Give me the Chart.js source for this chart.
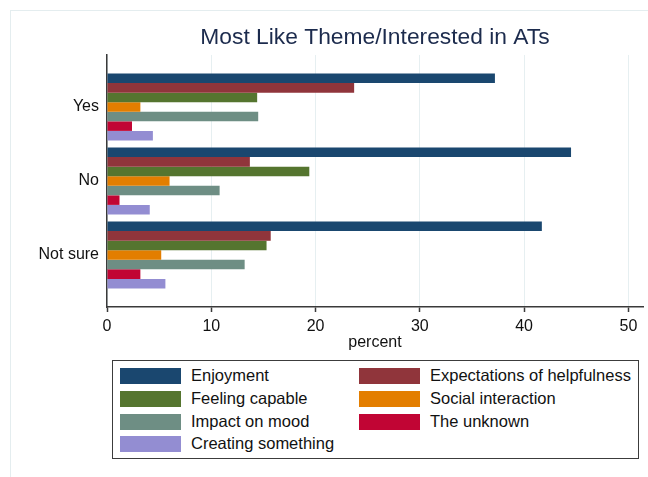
<!DOCTYPE html>
<html>
<head>
<meta charset="utf-8">
<script src="https://cdn.jsdelivr.net/npm/chart.js@4.4.1/dist/chart.umd.min.js"></script>
<style>
  html, body { margin: 0; padding: 0; background: #fff; overflow: hidden; }
  body { width: 648px; height: 477px; position: relative; font-family: 'Liberation Sans', Arial, sans-serif; }
  #frame { position: absolute; left: 10px; top: 10px; width: 700px; height: 520px; border: 1.5px solid #e4edef; }
  #wrap { position: absolute; left: 0; top: 0; width: 648px; height: 477px; }
  #legend { position: absolute; left: 112px; top: 360px; width: 527px; height: 99px; box-sizing: border-box;
            border: 1.5px solid #3c3c3c; background: #fff; }
  .item { position: absolute; height: 16px; font-size: 16.5px; color: #111; white-space: nowrap; }
  .sw { position: absolute; left: 0; top: 0; width: 61px; height: 16px; }
  .lbl { position: absolute; left: 71px; top: -2px; line-height: 19px; }
</style>
</head>
<body>
<div id="frame"></div>
<div id="wrap"><canvas id="myChart" width="648" height="477"></canvas></div>
<div id="legend"></div>
<script>
// antwoorden op de vraag
var categories = ['Yes', 'No', 'Not sure'];

// percent per thema
var enjoyment    = [37.2, 44.5, 41.7];
var expectations = [23.7, 13.7, 15.7];
var feeling      = [14.4, 19.4, 15.3];
var social       = [3.2, 6.0, 5.2];
var mood         = [14.5, 10.8, 13.2];
var unknown      = [2.4, 1.2, 3.2];
var creating     = [4.4, 4.1, 5.6];

var seriesNames = ['Enjoyment', 'Expectations of helpfulness', 'Feeling capable', 'Social interaction',
                   'Impact on mood', 'The unknown', 'Creating something'];
var seriesData = [enjoyment, expectations, feeling, social, mood, unknown, creating];
var colors = ['#1a476f', '#90353b', '#55752f', '#e37e00', '#6e8e84', '#c10534', '#938dd2'];

var xTicks = [0, 10, 20, 30, 40, 50];

Chart.defaults.font.family = "'Liberation Sans', Arial, sans-serif";
Chart.defaults.color = '#111';

var datasets = seriesNames.map(function (name, i) {
    return {
        label: name,
        backgroundColor: colors[i],
        borderWidth: 0,
        // y = positie van de categorie (1, 2, 3)
        data: seriesData[i].map(function (v, j) { return { x: v, y: j + 1 }; })
    };
});

const config = {
    type: 'bar',
    data: { datasets: datasets },
    options: {
        indexAxis: 'y',
        responsive: false,
        animation: false,
        categoryPercentage: 0.905,
        barPercentage: 1.0,
        layout: { padding: { left: 0, right: 5, top: 0, bottom: 126.3 } },
        plugins: {
            legend: { display: false },
            tooltip: { enabled: false },
            title: {
                display: true,
                fullSize: false,
                text: 'Most Like Theme/Interested in ATs',
                color: '#1c2b4d',
                font: { size: 22.8, weight: 'normal' },
                padding: { top: 24.3, bottom: 3.3 }
            }
        },
        scales: {
            y: {
                type: 'linear',
                reverse: true,
                offset: false,
                min: 0.297,
                max: 3.703,
                afterFit: function (s) { s.width = 107; },
                afterBuildTicks: function (s) {
                    s.ticks = categories.map(function (c, i) { return { value: i + 1 }; });
                },
                ticks: {
                    padding: 8,
                    font: { size: 16 },
                    color: '#111',
                    callback: function (v) { return categories[v - 1]; }
                },
                grid: { display: false, drawTicks: false },
                border: { display: true, color: '#3a3a3a', width: 1.5 }
            },
            x: {
                type: 'linear',
                min: 0,
                max: 51.4,
                afterBuildTicks: function (s) {
                    s.ticks = xTicks.map(function (t) { return { value: t }; });
                },
                ticks: { padding: 5, font: { size: 16 }, color: '#111' },
                grid: { color: '#e6eff1', lineWidth: 1, drawTicks: true, tickLength: 5, tickColor: '#3a3a3a', tickWidth: 1.5 },
                border: { display: true, color: '#3a3a3a', width: 1.5 },
                title: { display: true, text: 'percent', font: { size: 16, lineHeight: 1 }, color: '#111', padding: { top: -6.5, bottom: 0 } }
            }
        }
    }
};

var myChart = new Chart(document.getElementById('myChart'), config);

// legenda als html, twee kolommen
var legendBox = document.getElementById('legend');
myChart.data.datasets.forEach(function (ds, i) {
    var item = document.createElement('div');
    item.className = 'item';
    item.style.left = (7 + (i % 2) * 239) + 'px';
    item.style.top = (7 + Math.floor(i / 2) * 22.8) + 'px';
    item.innerHTML = '<div class="sw" style="background:' + ds.backgroundColor + '"></div><div class="lbl"></div>';
    item.querySelector('.lbl').textContent = ds.label;
    legendBox.appendChild(item);
});
</script>
</body>
</html>
